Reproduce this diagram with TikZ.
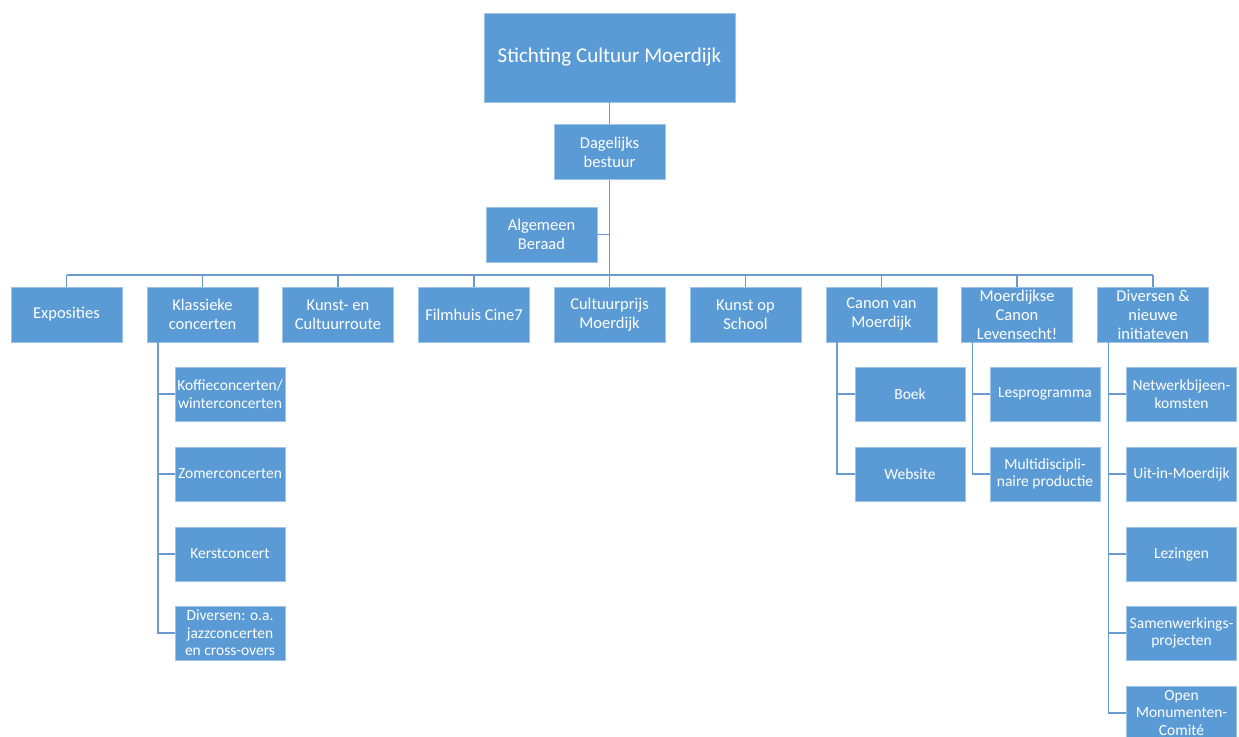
\documentclass[tikz,border=0pt]{standalone}
\usepackage{fontspec}
\setmainfont{Carlito}
\definecolor{boxblue}{HTML}{5B9BD5}
\definecolor{lineblue}{HTML}{6A9BD0}
\begin{document}
\begin{tikzpicture}[x=1pt,y=-1pt]
    \tikzstyle{every node}=[font=\fontsize{16.5}{19}\selectfont, text=white]
    \tikzstyle{unit}=[fill=boxblue, draw=boxblue!60!white, line width=0.5pt,
      minimum width=111pt, minimum height=55pt, align=center, inner sep=1pt]
    \tikzstyle{sub}=[unit, minimum width=110pt, minimum height=54pt,
      font=\fontsize{15.5}{17.5}\selectfont]
    \tikzstyle{link}=[draw=lineblue, line width=1.5pt]
    \def\s{11pt}
    \useasboundingbox (0,0) rectangle (1239,736);
    % top of the tree
    \node[unit, minimum width=251pt, minimum height=89pt, font=\fontsize{21}{25}\selectfont]
      (stichting) at (609.5,57.5) {Stichting Cultuur Moerdijk};
    \node[unit] (db) at (609.5,152) {Dagelijks\\bestuur};
    \node[unit] (ab) at (541.5,234.5) {Algemeen\\Beraad};
    \coordinate (bus) at (609.5,275);
    % first row
    \node[unit] (expo) at (66.5,314.5) {Exposities};
    \node[unit] (klas) at (202.5,314.5) {Klassieke\\concerten};
    \node[unit] (route) at (338,314.5) {Kunst- en\\Cultuurroute};
    \node[unit] (film) at (474,314.5) {Filmhuis Cine7};
    \node[unit] (prijs) at (609.5,314.5) {Cultuurprijs\\Moerdijk};
    \node[unit] (school) at (745.5,314.5) {Kunst op\\School};
    \node[unit] (canon) at (881.5,314.5) {Canon van\\Moerdijk};
    \node[unit] (leven) at (1017,314.5) {Moerdijkse\\Canon\\Levensecht!};
    \node[unit] (div) at (1153,314.5) {Diversen \&\\nieuwe\\initiateven};
    % klassieke concerten
    \node[sub] (koffie) at (230,394) {Koffieconcerten/\\winterconcerten};
    \node[sub] (zomer) at (230,474) {Zomerconcerten};
    \node[sub] (kerst) at (230,554) {Kerstconcert};
    \node[sub] (jazz) at (230,633) {Diversen: o.a.\\jazzconcerten\\en cross-overs};
    % canon van moerdijk
    \node[sub] (boek) at (910,394) {Boek};
    \node[sub] (web) at (910,474) {Website};
    % levensecht
    \node[sub] (les) at (1045,394) {Lesprogramma};
    \node[sub] (multi) at (1045,474) {Multidiscipli-\\naire productie};
    % diversen
    \node[sub] (netwerk) at (1181.5,394) {Netwerkbijeen-\\komsten};
    \node[sub] (uit) at (1181.5,474) {Uit-in-Moerdijk};
    \node[sub] (lez) at (1181.5,554) {Lezingen};
    \node[sub] (samen) at (1181.5,633) {Samenwerkings-\\projecten};
    \node[sub] (open) at (1181.5,713) {Open\\Monumenten-\\Comité};
    % lines
    \draw[link] (stichting.south) -- (db.north);
    \draw[link] (db.south) -- (bus);
    \draw[link] (ab.east) -- (ab.east -| db.south);
    \draw[link] (bus -| expo.north) -- (bus -| div.north);
    \foreach \n in {expo,klas,route,film,prijs,school,canon,leven,div}
      \draw[link] (bus -| \n.north) -- (\n.north);
    \foreach \n in {koffie,zomer,kerst,jazz}
      \draw[link] ([xshift=\s]klas.south west) |- (\n.west);
    \foreach \n in {boek,web}
      \draw[link] ([xshift=\s]canon.south west) |- (\n.west);
    \foreach \n in {les,multi}
      \draw[link] ([xshift=\s]leven.south west) |- (\n.west);
    \foreach \n in {netwerk,uit,lez,samen,open}
      \draw[link] ([xshift=\s]div.south west) |- (\n.west);
\end{tikzpicture}
\end{document}
